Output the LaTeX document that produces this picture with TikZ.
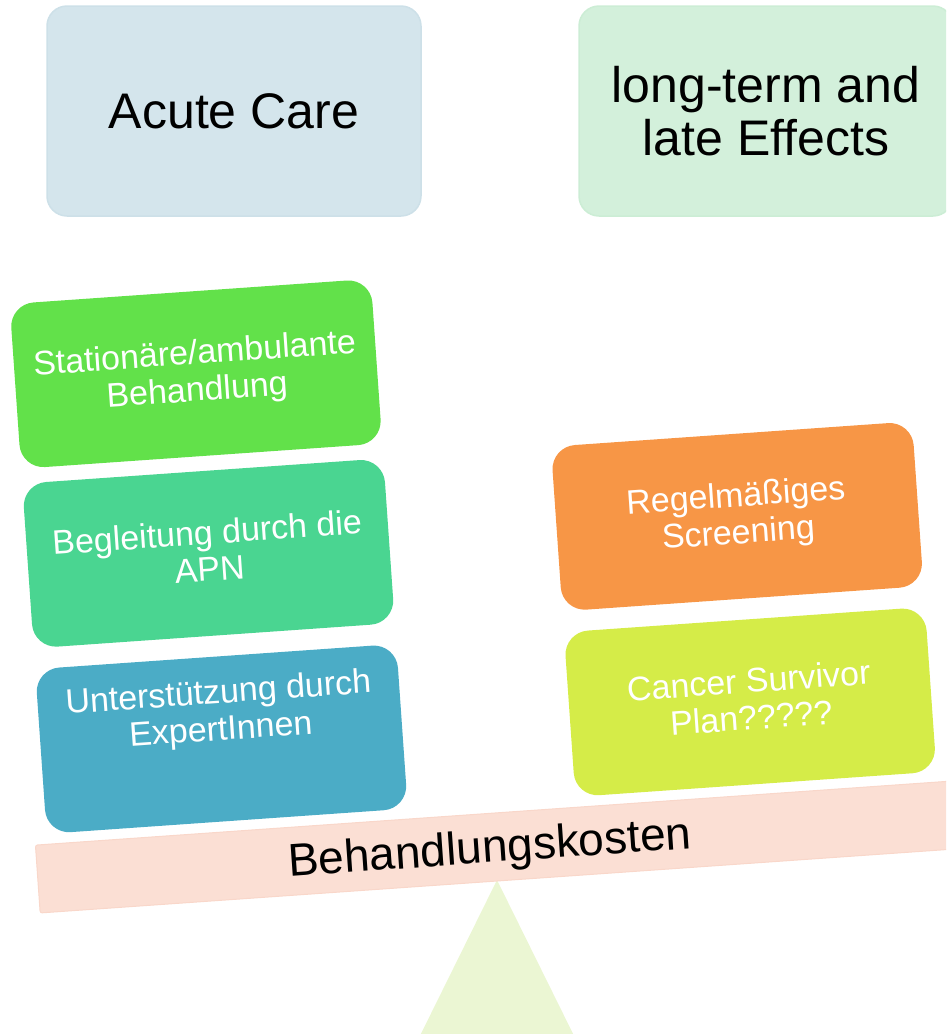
\documentclass[tikz,border=0pt]{standalone}
\usepackage{fontspec}
\setmainfont{Liberation Sans}
\definecolor{acuteFill}{HTML}{D4E5EC}
\definecolor{acuteLine}{HTML}{CDE0E8}
\definecolor{lateFill}{HTML}{D3F0DB}
\definecolor{lateLine}{HTML}{CCEDD5}
\definecolor{itemA}{HTML}{62E14A}
\definecolor{itemB}{HTML}{4AD591}
\definecolor{itemC}{HTML}{4BACC6}
\definecolor{itemD}{HTML}{F79646}
\definecolor{itemE}{HTML}{D5EC48}
\definecolor{beamFill}{HTML}{FBDFD4}
\definecolor{beamLine}{HTML}{F9D7CA}
\definecolor{fulcrumFill}{HTML}{EBF6D3}
\begin{document}
\begin{tikzpicture}[x=1pt,y=1pt,
  header/.style={rounded corners=20pt, minimum width=374pt, minimum height=210pt,
    line width=1.5pt, inner sep=0pt, align=center, text=black,
    font=\fontsize{50}{53}\selectfont},
  itembox/.style={rounded corners=24pt, minimum width=362pt, minimum height=165pt,
    inner sep=0pt},
  itemtext/.style={text=white, align=center, inner sep=0pt,
    font=\fontsize{34}{37}\selectfont},
  beambox/.style={fill=beamFill, draw=beamLine, line width=1pt, rounded corners=2pt,
    minimum width=916pt, minimum height=68pt, inner sep=0pt},
]
\useasboundingbox (0,-1034) rectangle (946,0);
\clip (0,-1034) rectangle (946,0);

% column headings
\node[header, fill=acuteFill, draw=acuteLine] (acute) at (234,-111) {Acute Care};
\node[header, fill=lateFill, draw=lateLine] (late) at (766,-111) {long-term and\\late Effects};

% fulcrum
\coordinate (pivot) at (497,-880);
\fill[fulcrumFill] (pivot) -- (408,-1060) -- (586,-1060) -- cycle;

% tilted beam with its loads
\begin{scope}[shift={(pivot)}, rotate=4, transform shape]
  \node[beambox] (beam) at (0,33) {};
  \node[anchor=base, inner sep=0pt, font=\fontsize{46}{50}\selectfont] (beamtext) at (-5,18) {Behandlungskosten};

  \node[itembox, fill=itemA] (b1) at (-265,526) {};
  \node[itemtext] (t1) at (b1.center) {Stationäre/ambulante\\Behandlung};

  \node[itembox, fill=itemB] (b2) at (-265,346) {};
  \node[itemtext] (t2) at (-265,349) {Begleitung durch die\\APN};

  \node[itembox, fill=itemC] (b3) at (-265,160) {};
  \node[itemtext] (t3) at (-265,186) {Unterstützung durch\\ExpertInnen};

  \node[itembox, fill=itemD] (b4) at (265,346) {};
  \node[itemtext] (t4) at (b4.center) {Regelmäßiges\\Screening};

  \node[itembox, fill=itemE] (b5) at (265,160) {};
  \node[itemtext] (t5) at (265,163) {Cancer Survivor\\Plan?????};
\end{scope}
\end{tikzpicture}
\end{document}
